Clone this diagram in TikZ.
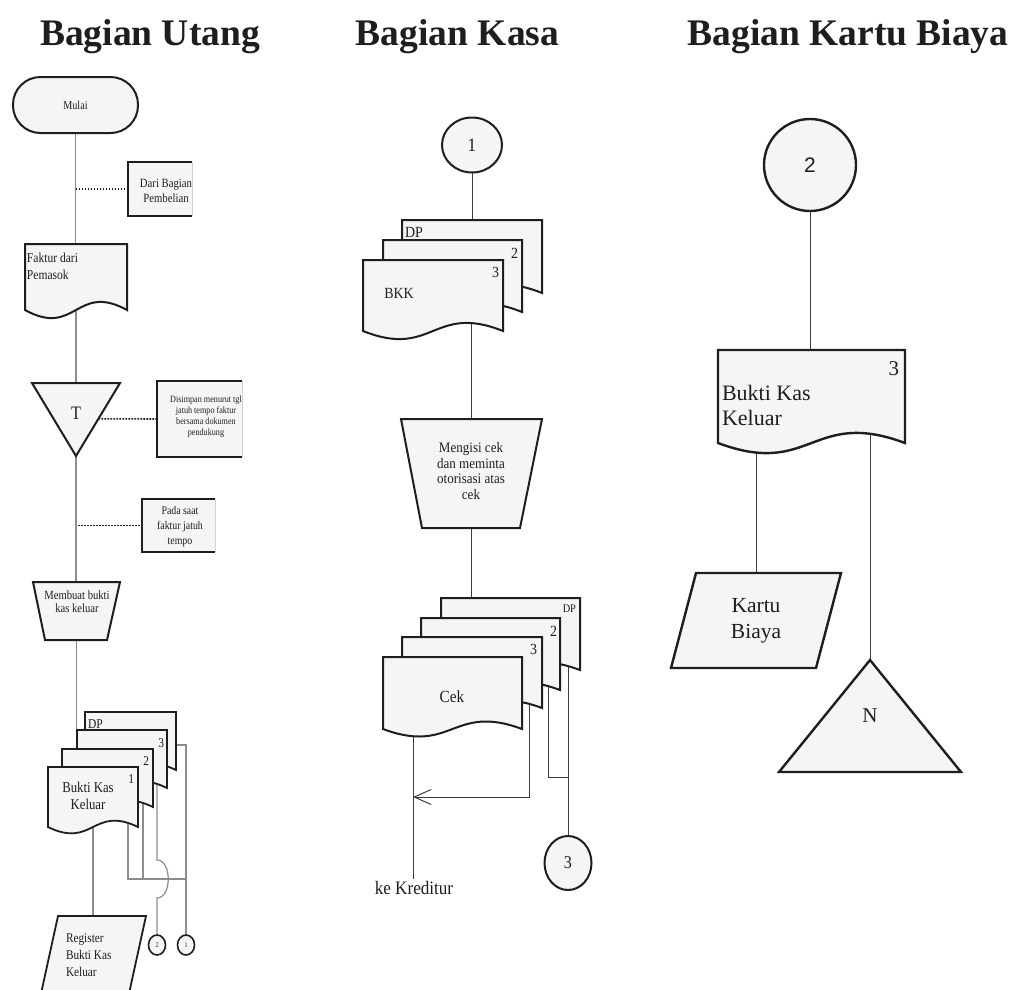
\documentclass[tikz,border=0pt]{standalone}
\usepackage{fontspec}
\setmainfont{Liberation Serif}
\newfontfamily\serifL[FakeStretch=0.85]{Liberation Serif}
\newfontfamily\serifM[FakeStretch=0.9]{Liberation Serif}
\newfontfamily\serifR{Liberation Serif}
\newfontfamily\titlefont{Liberation Serif}
\newfontfamily\sansR{Liberation Sans}
\usetikzlibrary{calc,arrows.meta,shapes.geometric}

\pgfdeclarelayer{lines}
\pgfdeclarelayer{shapes}
\pgfsetlayers{lines,shapes,main}

\definecolor{ink}{HTML}{1E1E1E}
\definecolor{paper}{HTML}{F5F5F5}
\definecolor{lineL}{HTML}{8C8C8C}
\definecolor{lineM}{HTML}{3C3C3C}
\definecolor{faint}{HTML}{D0D0D0}

\newcommand\fsz[2]{\fontsize{#1}{#2}\selectfont}

\tikzset{
  every node/.style={inner sep=0pt, outer sep=0pt, text=ink},
  frame/.style={draw=none, rectangle},
  outline/.style={draw=ink, line width=2pt, fill=paper, line join=miter},
  flowL/.style={draw=lineL, line width=1.2pt},
  flow/.style={draw=lineM, line width=1pt},
  note/.style={draw=ink, line width=1.6pt, dash pattern=on 1.6pt off 1.4pt},
  notebox/.style={rectangle, fill=paper, draw=none},
  noteedge/.style={draw=ink, line width=1.8pt},
  noteside/.style={draw=faint, line width=0.8pt},
  conn/.style={ellipse, draw=ink, line width=2pt, fill=paper},
  title/.style={font=\titlefont\bfseries\fsz{37.5}{40}, anchor=base},
}

% document sheet: optional style, name, left, top, right, bottom corner, wave depth
\newcommand\sheet[7][]{%
  \node[frame, minimum width={#5-#3}, minimum height={#6-#4}] (#2) at ({(#3+#5)/2},{(#4+#6)/2}) {};
  \begin{pgfonlayer}{shapes}
    \filldraw[outline,#1] (#2.north west) -- (#2.north east) -- (#2.south east)
      .. controls ($(#2.south)+(0,-#7)$) and ($(#2.south)+(0,#7)$) .. (#2.south west) -- cycle;
  \end{pgfonlayer}}

\begin{document}
\begin{tikzpicture}[x=1pt,y=-1pt]
\useasboundingbox (0,0) rectangle (1012,989);
\begin{pgfonlayer}{lines}
  \fill[white] (0,0) rectangle (1012,989);
\end{pgfonlayer}

% ---------- headings ----------
\node[title] (head1) at (150,45) {Bagian Utang};
\node[title] (head2) at (457.5,45) {Bagian Kasa};
\node[title] (head3) at (848,45) {Bagian Kartu Biaya};

% ---------- Bagian Utang ----------
\node[rectangle, rounded corners=27.5pt, minimum width=125pt, minimum height=56pt,
      draw=ink, line width=2pt, fill=paper, font=\serifL\fsz{12}{14}] (mulai) at (75.5,105) {Mulai};

\node[notebox, minimum width=64, minimum height=54] (dari) at (160,189) {};
\node[font=\serifL\fsz{12.6}{15}, align=center] (dari-t) at (166,191) {Dari Bagian\\Pembelian};
\draw[noteedge] (dari.north east) -- (dari.north west) -- (dari.south west) -- (dari.south east);
\draw[noteside] (dari.north east) -- (dari.south east);

\sheet{faktur}{25}{244}{127}{310}{28}
\node[font=\serifL\fsz{13.6}{17}, align=left, anchor=west] (faktur-t) at (27,266.5) {Faktur dari\\Pemasok};

\node[frame, minimum width=88, minimum height=73] (tbox) at (76,419.5) {};
\begin{pgfonlayer}{shapes}
  \filldraw[outline] (tbox.north west) -- (tbox.north east) -- (tbox.south) -- cycle;
\end{pgfonlayer}
\node[font=\serifL\fsz{19}{20}] (tlabel) at (76,413) {T};

\node[notebox, minimum width=85, minimum height=76] (simpan) at (199.5,419) {};
\node[font=\serifL\fsz{9.6}{11}, align=center] (simpan-t) at (206,417)
  {Disimpan menurut tgl\\jatuh tempo faktur\\bersama dokumen\\pendukung};
\draw[noteedge] (simpan.north east) -- (simpan.north west) -- (simpan.south west) -- (simpan.south east);
\draw[noteside] (simpan.north east) -- (simpan.south east);

\node[notebox, minimum width=73, minimum height=53] (pada) at (178.5,525.5) {};
\node[font=\serifL\fsz{11.6}{15}, align=center] (pada-t) at (180,527) {Pada saat\\faktur jatuh\\tempo};
\draw[noteedge] (pada.north east) -- (pada.north west) -- (pada.south west) -- (pada.south east);
\draw[noteside] (pada.north east) -- (pada.south east);

\node[frame, minimum width=87, minimum height=58] (buat) at (76.5,611) {};
\begin{pgfonlayer}{shapes}
  \filldraw[outline] (buat.north west) -- (buat.north east) -- ($(buat.south east)+(-13,0)$)
    -- ($(buat.south west)+(12,0)$) -- cycle;
\end{pgfonlayer}
\node[font=\serifL\fsz{12.5}{13}, align=center] (buat-t) at (77,601.5) {Membuat bukti\\kas keluar};

% stack of Bukti Kas Keluar copies
\sheet[line width=1.8pt]{ldp}{85}{712}{176}{770}{22}
\sheet[line width=1.8pt]{lthree}{77}{730}{167}{788}{22}
\sheet[line width=1.8pt]{ltwo}{62}{749}{153}{807}{22}
\sheet[line width=1.8pt]{lone}{48}{767}{138}{827}{22}
\node[font=\serifL\fsz{13.5}{15}, anchor=base west] (ldp-t) at (88,728) {DP};
\node[font=\serifL\fsz{13.5}{15}, anchor=base east] (lthree-t) at (164,747) {3};
\node[font=\serifL\fsz{13.5}{15}, anchor=base east] (ltwo-t) at (149,765) {2};
\node[font=\serifL\fsz{13.5}{15}, anchor=base east] (lone-t) at (134,783) {1};
\node[font=\serifL\fsz{15}{16.5}, align=center] (lone-name) at (88,796) {Bukti Kas\\Keluar};

% register (runs past the lower edge)
\node[frame, minimum width=88, minimum height=73] (reg) at (102,952.5) {};
\begin{pgfonlayer}{shapes}
  \begin{scope}
    \clip (0,0) rectangle (1012,989);
    \filldraw[outline, line width=1.8pt] (reg.north west) -- (reg.north east)
      -- ($(reg.north east)+(-18.4,84)$) -- ($(reg.north west)+(-18.4,84)$) -- cycle;
  \end{scope}
\end{pgfonlayer}
\node[font=\serifL\fsz{13.3}{17}, align=left, anchor=west] (reg-t) at (66,955) {Register\\Bukti Kas\\Keluar};

\node[conn, line width=1.6pt, minimum width=17, minimum height=20, font=\serifL\fsz{7}{8}] (offtwo) at (157,945) {2};
\node[conn, line width=1.6pt, minimum width=17, minimum height=20, font=\serifL\fsz{7}{8}] (offone) at (186,945) {1};

\begin{pgfonlayer}{lines}
  \draw[flowL] (mulai.south) -- (mulai.south |- faktur.north);
  \draw[flowL] (faktur.center) -- (tbox.north);
  \draw[flowL] (tbox.south) -- (tbox.south |- buat.north);
  \draw[flowL] (buat.south) -- (buat.south |- lthree.north);
  \draw[flowL] (lone.center) -- (lone.center |- reg.north);
  \coordinate (jn) at (186,879);
  \coordinate (l1d) at ($(lone.south east)+(-10,-10)$);
  \coordinate (l2d) at ($(ltwo.south east)+(-10,-10)$);
  \coordinate (l3d) at ($(lthree.south east)+(-10,-10)$);
  \coordinate (hopA) at (157,860);
  \coordinate (hopB) at (157,898);
  \coordinate (ldpr) at ($(ldp.north east)+(-3,33)$);
  \draw[flowL] (l1d) |- (jn);
  \draw[flowL] (l2d) -- (l2d |- jn);
  \draw[flowL] (l3d) -- (hopA) .. controls ($(hopA)+(15,0)$) and ($(hopB)+(15,0)$) .. (hopB) -- (offtwo.north);
  \draw[flowL] (ldpr) -- (ldpr -| offone) -- (offone.north);
\end{pgfonlayer}
\draw[note] (mulai.south |- dari.west) -- (dari.west);
\draw[note] ($(tbox.north east)!0.49!(tbox.south)$) -- (simpan.west);
\draw[note] ($(tbox.south |- pada.west)+(2,0)$) -- (pada.west);

% ---------- Bagian Kasa ----------
\node[conn, minimum width=60, minimum height=55, font=\serifM\fsz{19}{20}] (kas1) at (472,145) {1};

\sheet{mdp}{402}{220}{542}{293}{28}
\sheet{mtwo}{383}{240}{522}{312}{28}
\sheet{mbkk}{363}{260}{503}{331}{28}
\node[font=\serifM\fsz{15.5}{17}, anchor=base west] (mdp-t) at (405,237) {DP};
\node[font=\serifM\fsz{15.5}{17}, anchor=base east] (mtwo-t) at (518,258) {2};
\node[font=\serifM\fsz{15.5}{17}, anchor=base east] (mbkk-n) at (499,277) {3};
\node[font=\serifM\fsz{15.5}{17}] (mbkk-t) at (399,293) {BKK};

\node[frame, minimum width=141, minimum height=109] (mproc) at (471.5,473.5) {};
\begin{pgfonlayer}{shapes}
  \filldraw[outline] (mproc.north west) -- (mproc.north east) -- ($(mproc.south east)+(-22,0)$)
    -- ($(mproc.south west)+(21,0)$) -- cycle;
\end{pgfonlayer}
\node[font=\serifM\fsz{14.5}{15.7}, align=center] (mproc-t) at (471,471)
  {Mengisi cek\\dan meminta\\otorisasi atas\\cek};

\sheet{kdp}{441}{598}{580}{670}{26}
\sheet{ktwo}{421}{618}{560}{690}{26}
\sheet{kthree}{402}{637}{542}{708}{26}
\sheet{kcek}{383}{657}{522}{729}{26}
\node[font=\serifM\fsz{11.5}{13}, anchor=base east] (kdp-t) at (576,612) {DP};
\node[font=\serifM\fsz{15.5}{17}, anchor=base east] (ktwo-t) at (557,636) {2};
\node[font=\serifM\fsz{15.5}{17}, anchor=base east] (kthree-t) at (537,654) {3};
\node[font=\serifM\fsz{17}{19}] (kcek-t) at (452,697) {Cek};

\node[font=\serifM\fsz{19}{21}, inner sep=2pt] (kred) at (414,888) {ke Kreditur};
\node[conn, minimum width=47, minimum height=54, font=\serifM\fsz{18}{20}] (kas3) at (568,863) {3};

\begin{pgfonlayer}{lines}
  \draw[flow] (kas1.south) -- (kas1.south |- mdp.north);
  \draw[flow] (mproc.north |- mbkk.center) -- (mproc.north);
  \draw[flow] (mproc.south) -- (mproc.south |- kdp.north);
  \coordinate (kk) at ($(kcek.south west)+(30,-12)$);
  \draw[flow] (kk) -- (kk |- kred.north);
  \coordinate (k3d) at ($(kthree.south east)+(-13,-12)$);
  \coordinate (krtip) at (413,797);
  \draw[flow, -{Straight Barb[length=17pt, width=15pt]}] (k3d) |- (krtip);
  \coordinate (k2d) at ($(ktwo.south east)+(-12,-12)$);
  \coordinate (kj) at (568,777);
  \draw[flow] (k2d) |- (kj);
  \coordinate (kdpd) at ($(kdp.south east)+(-12,-12)$);
  \draw[flow] (kdpd) -- (kas3.north);
\end{pgfonlayer}

% ---------- Bagian Kartu Biaya ----------
\node[conn, line width=2.4pt, minimum width=92, minimum height=92, font=\sansR\fsz{21}{22}] (rtwo) at (810,165) {2};

\sheet[line width=2.4pt]{rdoc}{718}{350}{905}{443}{35}
\node[font=\serifR\fsz{21}{23}, anchor=base east] (rdoc-n) at (899,375) {3};
\node[font=\serifR\fsz{22}{25}, align=left, anchor=west] (rdoc-t) at (722,405) {Bukti Kas\\Keluar};

\node[frame, minimum width=170, minimum height=95, font=\serifR\fsz{21.5}{26}, align=center] (kartu) at (756,620.5) {Kartu\\Biaya};
\begin{pgfonlayer}{shapes}
  \filldraw[outline, line width=2.4pt] ($(kartu.north west)+(25,0)$) -- (kartu.north east)
    -- ($(kartu.south east)+(-25,0)$) -- (kartu.south west) -- cycle;
\end{pgfonlayer}

\node[frame, minimum width=182, minimum height=112, font=\serifR\fsz{21}{22}] (nbox) at (870,716) {N};
\begin{pgfonlayer}{shapes}
  \filldraw[outline, line width=2.4pt] (nbox.south west) -- (nbox.north) -- (nbox.south east) -- cycle;
\end{pgfonlayer}

\begin{pgfonlayer}{lines}
  \draw[flow] (rtwo.south) -- (rtwo.south |- rdoc.north);
  \draw[flow] (kartu.north |- rdoc.center) -- (kartu.north);
  \draw[flow] (nbox.north |- rdoc.center) -- (nbox.north);
\end{pgfonlayer}
\end{tikzpicture}
\end{document}
